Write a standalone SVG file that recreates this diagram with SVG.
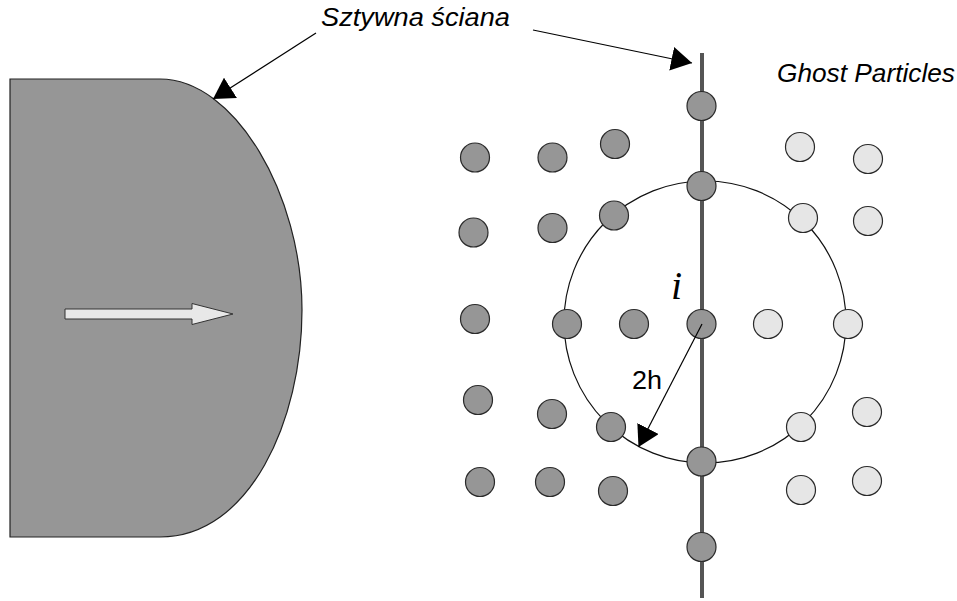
<svg xmlns="http://www.w3.org/2000/svg" width="957" height="601" viewBox="0 0 957 601">
<style>
.p{fill:#969696;stroke:#2a2a2a;stroke-width:1.2}
.g{fill:#e6e6e6;stroke:#2a2a2a;stroke-width:1.2}
.lbl{font-family:"Liberation Sans",Arial,sans-serif;font-style:italic;font-size:25px;fill:#000}
.ld{stroke:#000;stroke-width:1.2;fill:none}
</style>
<defs>
<marker id="ah" markerUnits="userSpaceOnUse" markerWidth="22" markerHeight="24" viewBox="0 0 20 22" refX="19" refY="11" orient="auto">
<path d="M0,0 L19,11 L0,22 Z" fill="#000"/>
</marker>
</defs>
<rect width="957" height="601" fill="#fff"/>
<g id="body">
<path d="M10,79 H160 C235,79 302,195 302,310 C302,420 250,537 160,537 H10 Z" fill="#969696" stroke="#222" stroke-width="1.2"/>
<path d="M65,309 H192 V303.5 L233,314 L192,324.5 V319 H65 Z" fill="#e8e8e8" stroke="#333" stroke-width="1"/>
</g>
<g id="wall">
<line x1="702" y1="53" x2="702" y2="598" stroke="#555" stroke-width="4"/>
</g>
<g id="kernel">
<circle cx="705" cy="322" r="141" fill="none" stroke="#111" stroke-width="1.2"/>
</g>
<g id="wall-particles">
<circle class="p" cx="701.5" cy="106" r="14.5"/>
<circle class="p" cx="701.5" cy="186" r="14.5"/>
<circle class="p" cx="701.5" cy="324" r="14.5"/>
<circle class="p" cx="701.5" cy="461.5" r="14.5"/>
<circle class="p" cx="701.5" cy="547" r="14.5"/>
</g>
<g id="fluid-particles">
<circle class="p" cx="475" cy="157.5" r="14.5"/>
<circle class="p" cx="552.5" cy="157.5" r="14.5"/>
<circle class="p" cx="615" cy="144" r="14.5"/>
<circle class="p" cx="473.5" cy="232.5" r="14.5"/>
<circle class="p" cx="552.5" cy="228" r="14.5"/>
<circle class="p" cx="614" cy="215.5" r="14.5"/>
<circle class="p" cx="475" cy="319" r="14.5"/>
<circle class="p" cx="567" cy="324" r="14.5"/>
<circle class="p" cx="634" cy="324" r="14.5"/>
<circle class="p" cx="478" cy="400" r="14.5"/>
<circle class="p" cx="552" cy="414" r="14.5"/>
<circle class="p" cx="611" cy="427" r="14.5"/>
<circle class="p" cx="480" cy="482" r="14.5"/>
<circle class="p" cx="550" cy="482" r="14.5"/>
<circle class="p" cx="613" cy="491" r="14.5"/>
</g>
<g id="ghost-particles">
<circle class="g" cx="800" cy="147" r="14.5"/>
<circle class="g" cx="868" cy="159" r="14.5"/>
<circle class="g" cx="803" cy="218" r="14.5"/>
<circle class="g" cx="868" cy="221" r="14.5"/>
<circle class="g" cx="768" cy="324" r="14.5"/>
<circle class="g" cx="848" cy="324" r="14.5"/>
<circle class="g" cx="801" cy="427" r="14.5"/>
<circle class="g" cx="867" cy="412" r="14.5"/>
<circle class="g" cx="801" cy="490" r="14.5"/>
<circle class="g" cx="867" cy="481" r="14.5"/>
</g>
<g id="connectors">
<line class="ld" x1="316" y1="33" x2="213" y2="99" marker-end="url(#ah)"/>
<line class="ld" x1="533" y1="30" x2="692" y2="63" marker-end="url(#ah)"/>
<line class="ld" x1="702" y1="324" x2="638.5" y2="447" marker-end="url(#ah)"/>
</g>
<g id="labels">
<text class="lbl" x="321" y="26" textLength="189" lengthAdjust="spacingAndGlyphs">Sztywna ściana</text>
<text class="lbl" x="777" y="82" textLength="178" lengthAdjust="spacingAndGlyphs">Ghost Particles</text>
<text x="671" y="299" font-family="'Liberation Serif','Times New Roman',serif" font-style="italic" font-size="40">i</text>
<text x="632" y="389" font-family="'Liberation Sans',Arial,sans-serif" font-size="26" textLength="30" lengthAdjust="spacingAndGlyphs">2h</text>
</g>
</svg>
